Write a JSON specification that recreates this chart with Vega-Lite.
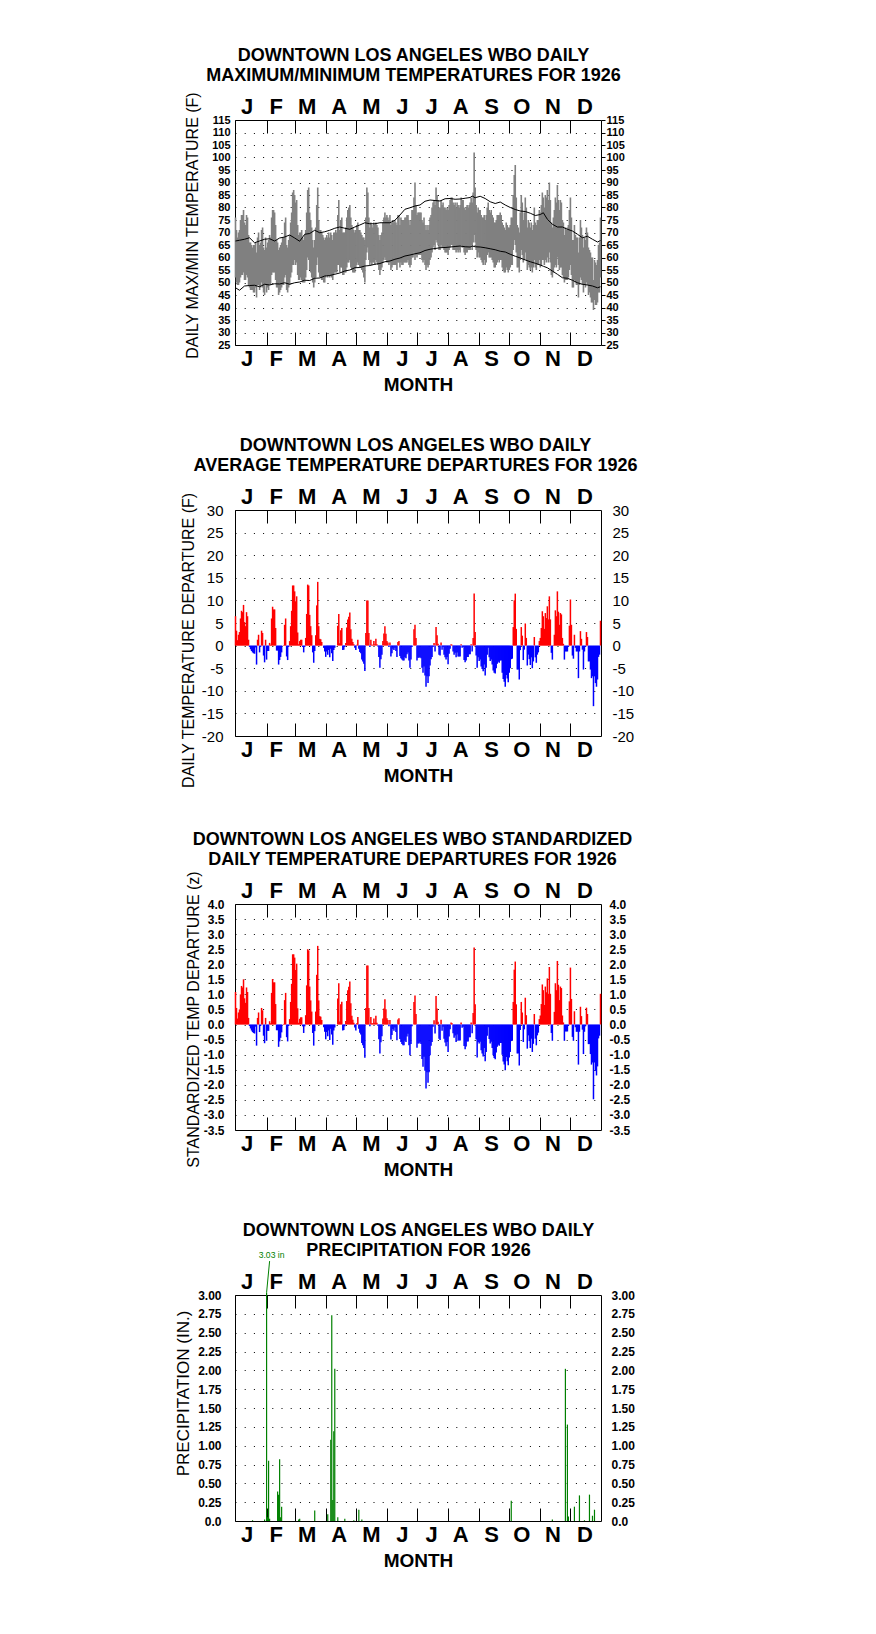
{
"$schema": "https://vega.github.io/schema/vega-lite/v6.json",
"background": "white",
"padding": {"left": 174, "top": 46, "right": 10, "bottom": 10},
"spacing": 41,
"config": {
  "font": "Liberation Sans",
  "view": {"stroke": "black", "strokeWidth": 1},
  "axis": {"labelColor": "black", "titleColor": "black", "labelFont": "Liberation Sans", "titleFont": "Liberation Sans", "domain": false}
},
"datasets": {
"days": [
{"d":1,"hi":76,"lo":52,"dep":6.5,"z":1.08},{"d":2,"hi":71,"lo":50,"dep":3.3,"z":0.55},{"d":3,"hi":68,"lo":49,"dep":1.2,"z":0.2},{"d":4,"hi":70,"lo":49,"dep":2.4,"z":0.4},{"d":5,"hi":71,"lo":50,"dep":3.0,"z":0.5},{"d":6,"hi":75,"lo":52,"dep":6.0,"z":1.0},{"d":7,"hi":77,"lo":53,"dep":7.7,"z":1.28},{"d":8,"hi":77,"lo":53,"dep":7.4,"z":1.23},{"d":9,"hi":79,"lo":54,"dep":9.0,"z":1.5},{"d":10,"hi":74,"lo":51,"dep":5.2,"z":0.87},
{"d":11,"hi":73,"lo":51,"dep":4.3,"z":0.72},{"d":12,"hi":77,"lo":53,"dep":7.4,"z":1.23},{"d":13,"hi":76,"lo":52,"dep":6.5,"z":1.08},{"d":14,"hi":69,"lo":49,"dep":1.3,"z":0.22},{"d":15,"hi":66,"lo":48,"dep":-0.3,"z":-0.05},{"d":16,"hi":66,"lo":47,"dep":-0.8,"z":-0.13},{"d":17,"hi":65,"lo":47,"dep":-1.2,"z":-0.2},{"d":18,"hi":64,"lo":47,"dep":-1.5,"z":-0.25},{"d":19,"hi":65,"lo":46,"dep":-1.7,"z":-0.28},{"d":20,"hi":65,"lo":46,"dep":-1.8,"z":-0.3},
{"d":21,"hi":66,"lo":48,"dep":-0.4,"z":-0.07},{"d":22,"hi":62,"lo":44,"dep":-4.2,"z":-0.7},{"d":23,"hi":68,"lo":49,"dep":1.3,"z":0.22},{"d":24,"hi":70,"lo":49,"dep":2.4,"z":0.4},{"d":25,"hi":65,"lo":47,"dep":-1.5,"z":-0.25},{"d":26,"hi":66,"lo":48,"dep":-0.3,"z":-0.05},{"d":27,"hi":71,"lo":50,"dep":3.3,"z":0.55},{"d":28,"hi":72,"lo":48,"dep":2.8,"z":0.47},{"d":29,"hi":64,"lo":46,"dep":-2.2,"z":-0.37},{"d":30,"hi":63,"lo":45,"dep":-3.7,"z":-0.62},
{"d":31,"hi":68,"lo":49,"dep":1.3,"z":0.22},{"d":32,"hi":64,"lo":46,"dep":-3.1,"z":-0.54},{"d":33,"hi":66,"lo":48,"dep":-1.2,"z":-0.21},{"d":34,"hi":67,"lo":47,"dep":-1.2,"z":-0.21},{"d":35,"hi":69,"lo":49,"dep":0.6,"z":0.11},{"d":36,"hi":68,"lo":49,"dep":0.2,"z":0.04},{"d":37,"hi":76,"lo":53,"dep":6.0,"z":1.05},{"d":38,"hi":79,"lo":54,"dep":8.6,"z":1.51},{"d":39,"hi":79,"lo":54,"dep":8.0,"z":1.4},{"d":40,"hi":78,"lo":54,"dep":8.0,"z":1.4},
{"d":41,"hi":73,"lo":51,"dep":3.9,"z":0.68},{"d":42,"hi":67,"lo":48,"dep":-1.1,"z":-0.19},{"d":43,"hi":66,"lo":48,"dep":-1.1,"z":-0.19},{"d":44,"hi":63,"lo":45,"dep":-4.2,"z":-0.74},{"d":45,"hi":64,"lo":46,"dep":-3.2,"z":-0.56},{"d":46,"hi":65,"lo":47,"dep":-2.5,"z":-0.44},{"d":47,"hi":66,"lo":48,"dep":-1.5,"z":-0.26},{"d":48,"hi":68,"lo":49,"dep":0.0,"z":0.0},{"d":49,"hi":68,"lo":49,"dep":0.1,"z":0.02},{"d":50,"hi":74,"lo":52,"dep":4.6,"z":0.81},
{"d":51,"hi":76,"lo":53,"dep":6.0,"z":1.05},{"d":52,"hi":65,"lo":47,"dep":-2.4,"z":-0.42},{"d":53,"hi":64,"lo":46,"dep":-3.2,"z":-0.56},{"d":54,"hi":67,"lo":48,"dep":-0.3,"z":-0.05},{"d":55,"hi":69,"lo":49,"dep":1.0,"z":0.18},{"d":56,"hi":74,"lo":52,"dep":4.3,"z":0.75},{"d":57,"hi":78,"lo":54,"dep":7.7,"z":1.35},{"d":58,"hi":86,"lo":57,"dep":13.3,"z":2.33},{"d":59,"hi":87,"lo":57,"dep":13.3,"z":2.33},{"d":60,"hi":85,"lo":59,"dep":12.0,"z":2.22},
{"d":61,"hi":82,"lo":57,"dep":9.8,"z":1.81},{"d":62,"hi":83,"lo":58,"dep":10.9,"z":2.02},{"d":63,"hi":73,"lo":53,"dep":2.9,"z":0.54},{"d":64,"hi":69,"lo":51,"dep":0.3,"z":0.06},{"d":65,"hi":70,"lo":51,"dep":1.0,"z":0.19},{"d":66,"hi":70,"lo":52,"dep":1.3,"z":0.24},{"d":67,"hi":71,"lo":51,"dep":1.3,"z":0.24},{"d":68,"hi":68,"lo":50,"dep":-0.3,"z":-0.06},{"d":69,"hi":67,"lo":50,"dep":-1.5,"z":-0.28},{"d":70,"hi":69,"lo":50,"dep":-0.3,"z":-0.06},
{"d":71,"hi":71,"lo":52,"dep":1.7,"z":0.31},{"d":72,"hi":78,"lo":55,"dep":7.0,"z":1.3},{"d":73,"hi":87,"lo":60,"dep":13.5,"z":2.5},{"d":74,"hi":88,"lo":59,"dep":13.3,"z":2.46},{"d":75,"hi":78,"lo":55,"dep":6.8,"z":1.26},{"d":76,"hi":75,"lo":54,"dep":4.3,"z":0.8},{"d":77,"hi":72,"lo":52,"dep":2.3,"z":0.43},{"d":78,"hi":67,"lo":50,"dep":-1.5,"z":-0.28},{"d":79,"hi":64,"lo":48,"dep":-3.8,"z":-0.7},{"d":80,"hi":67,"lo":50,"dep":-1.2,"z":-0.22},
{"d":81,"hi":72,"lo":52,"dep":2.3,"z":0.43},{"d":82,"hi":81,"lo":57,"dep":8.9,"z":1.65},{"d":83,"hi":88,"lo":60,"dep":14.1,"z":2.61},{"d":84,"hi":75,"lo":54,"dep":4.3,"z":0.8},{"d":85,"hi":71,"lo":52,"dep":1.5,"z":0.28},{"d":86,"hi":71,"lo":52,"dep":1.4,"z":0.26},{"d":87,"hi":70,"lo":51,"dep":0.8,"z":0.15},{"d":88,"hi":69,"lo":51,"dep":0.0,"z":0.0},{"d":89,"hi":68,"lo":50,"dep":-0.5,"z":-0.09},{"d":90,"hi":67,"lo":50,"dep":-1.3,"z":-0.24},
{"d":91,"hi":68,"lo":52,"dep":-2.5,"z":-0.49},{"d":92,"hi":69,"lo":53,"dep":-1.3,"z":-0.25},{"d":93,"hi":68,"lo":52,"dep":-2.0,"z":-0.39},{"d":94,"hi":70,"lo":53,"dep":-1.0,"z":-0.2},{"d":95,"hi":68,"lo":52,"dep":-2.6,"z":-0.51},{"d":96,"hi":70,"lo":53,"dep":-0.7,"z":-0.14},{"d":97,"hi":69,"lo":52,"dep":-1.7,"z":-0.33},{"d":98,"hi":67,"lo":51,"dep":-3.4,"z":-0.67},{"d":99,"hi":70,"lo":53,"dep":-1.0,"z":-0.2},{"d":100,"hi":70,"lo":54,"dep":-0.5,"z":-0.1},
{"d":101,"hi":71,"lo":54,"dep":0.0,"z":0.0},{"d":102,"hi":70,"lo":54,"dep":0.0,"z":0.0},{"d":103,"hi":77,"lo":57,"dep":4.4,"z":0.86},{"d":104,"hi":83,"lo":57,"dep":7.0,"z":1.37},{"d":105,"hi":71,"lo":54,"dep":0.5,"z":0.1},{"d":106,"hi":75,"lo":56,"dep":3.4,"z":0.67},{"d":107,"hi":76,"lo":56,"dep":3.9,"z":0.76},{"d":108,"hi":70,"lo":53,"dep":-1.0,"z":-0.2},{"d":109,"hi":70,"lo":53,"dep":-0.9,"z":-0.18},{"d":110,"hi":70,"lo":54,"dep":-0.3,"z":-0.06},
{"d":111,"hi":72,"lo":54,"dep":0.6,"z":0.12},{"d":112,"hi":76,"lo":56,"dep":4.0,"z":0.78},{"d":113,"hi":79,"lo":58,"dep":5.8,"z":1.14},{"d":114,"hi":80,"lo":58,"dep":6.4,"z":1.25},{"d":115,"hi":81,"lo":59,"dep":7.3,"z":1.43},{"d":116,"hi":76,"lo":56,"dep":3.6,"z":0.71},{"d":117,"hi":73,"lo":55,"dep":1.5,"z":0.29},{"d":118,"hi":72,"lo":54,"dep":0.8,"z":0.16},{"d":119,"hi":71,"lo":54,"dep":0.3,"z":0.06},{"d":120,"hi":70,"lo":54,"dep":-0.5,"z":-0.1},
{"d":121,"hi":71,"lo":56,"dep":-1.0,"z":-0.2},{"d":122,"hi":73,"lo":57,"dep":0.2,"z":0.04},{"d":123,"hi":74,"lo":58,"dep":1.3,"z":0.25},{"d":124,"hi":71,"lo":57,"dep":-0.7,"z":-0.14},{"d":125,"hi":71,"lo":56,"dep":-1.4,"z":-0.27},{"d":126,"hi":70,"lo":56,"dep":-1.7,"z":-0.33},{"d":127,"hi":69,"lo":55,"dep":-3.1,"z":-0.61},{"d":128,"hi":68,"lo":54,"dep":-3.5,"z":-0.69},{"d":129,"hi":68,"lo":52,"dep":-4.0,"z":-0.78},{"d":130,"hi":67,"lo":50,"dep":-5.6,"z":-1.1},
{"d":131,"hi":76,"lo":59,"dep":2.8,"z":0.55},{"d":132,"hi":88,"lo":62,"dep":10.0,"z":1.96},{"d":133,"hi":86,"lo":64,"dep":10.0,"z":1.96},{"d":134,"hi":76,"lo":59,"dep":2.8,"z":0.55},{"d":135,"hi":72,"lo":57,"dep":-0.3,"z":-0.06},{"d":136,"hi":74,"lo":58,"dep":1.3,"z":0.25},{"d":137,"hi":73,"lo":57,"dep":0.2,"z":0.04},{"d":138,"hi":72,"lo":58,"dep":0.2,"z":0.04},{"d":139,"hi":74,"lo":58,"dep":1.0,"z":0.2},{"d":140,"hi":73,"lo":57,"dep":0.3,"z":0.06},
{"d":141,"hi":74,"lo":59,"dep":1.5,"z":0.29},{"d":142,"hi":73,"lo":58,"dep":0.3,"z":0.06},{"d":143,"hi":72,"lo":57,"dep":-0.2,"z":-0.04},{"d":144,"hi":69,"lo":55,"dep":-2.5,"z":-0.49},{"d":145,"hi":67,"lo":53,"dep":-4.9,"z":-0.96},{"d":146,"hi":69,"lo":55,"dep":-3.0,"z":-0.59},{"d":147,"hi":70,"lo":56,"dep":-2.0,"z":-0.39},{"d":148,"hi":74,"lo":58,"dep":1.0,"z":0.2},{"d":149,"hi":76,"lo":59,"dep":2.7,"z":0.53},{"d":150,"hi":78,"lo":60,"dep":4.3,"z":0.84},
{"d":151,"hi":76,"lo":59,"dep":2.6,"z":0.51},{"d":152,"hi":77,"lo":58,"dep":1.0,"z":0.21},{"d":153,"hi":76,"lo":58,"dep":0.7,"z":0.15},{"d":154,"hi":75,"lo":57,"dep":-0.3,"z":-0.06},{"d":155,"hi":77,"lo":58,"dep":0.7,"z":0.15},{"d":156,"hi":73,"lo":55,"dep":-2.4,"z":-0.5},{"d":157,"hi":74,"lo":56,"dep":-1.7,"z":-0.35},{"d":158,"hi":75,"lo":57,"dep":-0.7,"z":-0.15},{"d":159,"hi":74,"lo":57,"dep":-1.0,"z":-0.21},{"d":160,"hi":75,"lo":57,"dep":-0.5,"z":-0.1},
{"d":161,"hi":74,"lo":57,"dep":-1.2,"z":-0.25},{"d":162,"hi":73,"lo":55,"dep":-2.5,"z":-0.52},{"d":163,"hi":77,"lo":58,"dep":0.8,"z":0.17},{"d":164,"hi":77,"lo":58,"dep":1.0,"z":0.21},{"d":165,"hi":73,"lo":56,"dep":-2.3,"z":-0.48},{"d":166,"hi":76,"lo":58,"dep":-2.8,"z":-0.58},{"d":167,"hi":75,"lo":57,"dep":-3.1,"z":-0.65},{"d":168,"hi":75,"lo":57,"dep":-3.3,"z":-0.69},{"d":169,"hi":75,"lo":58,"dep":-3.3,"z":-0.69},{"d":170,"hi":76,"lo":58,"dep":-2.6,"z":-0.54},
{"d":171,"hi":76,"lo":58,"dep":-2.8,"z":-0.58},{"d":172,"hi":77,"lo":58,"dep":-1.9,"z":-0.4},{"d":173,"hi":77,"lo":59,"dep":-1.5,"z":-0.31},{"d":174,"hi":75,"lo":57,"dep":-3.3,"z":-0.69},{"d":175,"hi":73,"lo":56,"dep":-4.9,"z":-1.02},{"d":176,"hi":75,"lo":57,"dep":-3.1,"z":-0.65},{"d":177,"hi":79,"lo":60,"dep":-0.3,"z":-0.06},{"d":178,"hi":79,"lo":60,"dep":0.0,"z":0.0},{"d":179,"hi":84,"lo":62,"dep":3.6,"z":0.75},{"d":180,"hi":90,"lo":59,"dep":4.6,"z":0.96},
{"d":181,"hi":81,"lo":61,"dep":1.7,"z":0.35},{"d":182,"hi":77,"lo":60,"dep":-3.3,"z":-0.77},{"d":183,"hi":78,"lo":61,"dep":-2.7,"z":-0.63},{"d":184,"hi":78,"lo":61,"dep":-2.7,"z":-0.63},{"d":185,"hi":78,"lo":61,"dep":-2.6,"z":-0.6},{"d":186,"hi":78,"lo":61,"dep":-2.8,"z":-0.65},{"d":187,"hi":75,"lo":59,"dep":-4.9,"z":-1.14},{"d":188,"hi":74,"lo":58,"dep":-6.0,"z":-1.4},{"d":189,"hi":76,"lo":59,"dep":-4.6,"z":-1.07},{"d":190,"hi":73,"lo":57,"dep":-6.6,"z":-1.53},
{"d":191,"hi":71,"lo":55,"dep":-9.1,"z":-2.12},{"d":192,"hi":73,"lo":57,"dep":-6.8,"z":-1.58},{"d":193,"hi":71,"lo":56,"dep":-8.3,"z":-1.93},{"d":194,"hi":73,"lo":57,"dep":-6.8,"z":-1.58},{"d":195,"hi":76,"lo":59,"dep":-4.4,"z":-1.02},{"d":196,"hi":77,"lo":60,"dep":-3.0,"z":-0.7},{"d":197,"hi":80,"lo":62,"dep":-2.5,"z":-0.58},{"d":198,"hi":82,"lo":64,"dep":-0.3,"z":-0.07},{"d":199,"hi":83,"lo":65,"dep":0.6,"z":0.14},{"d":200,"hi":81,"lo":63,"dep":-1.3,"z":-0.3},
{"d":201,"hi":88,"lo":67,"dep":4.1,"z":0.95},{"d":202,"hi":85,"lo":66,"dep":2.3,"z":0.53},{"d":203,"hi":83,"lo":65,"dep":0.4,"z":0.09},{"d":204,"hi":80,"lo":63,"dep":-2.0,"z":-0.47},{"d":205,"hi":80,"lo":63,"dep":-2.2,"z":-0.51},{"d":206,"hi":83,"lo":65,"dep":0.7,"z":0.16},{"d":207,"hi":81,"lo":64,"dep":-0.9,"z":-0.21},{"d":208,"hi":82,"lo":64,"dep":-0.3,"z":-0.07},{"d":209,"hi":80,"lo":63,"dep":-2.0,"z":-0.47},{"d":210,"hi":80,"lo":62,"dep":-2.6,"z":-0.6},
{"d":211,"hi":79,"lo":62,"dep":-3.1,"z":-0.72},{"d":212,"hi":80,"lo":62,"dep":-2.5,"z":-0.58},{"d":213,"hi":79,"lo":61,"dep":-4.1,"z":-0.91},{"d":214,"hi":81,"lo":63,"dep":-1.8,"z":-0.4},{"d":215,"hi":83,"lo":64,"dep":-0.7,"z":-0.16},{"d":216,"hi":84,"lo":65,"dep":0.3,"z":0.07},{"d":217,"hi":84,"lo":65,"dep":0.2,"z":0.04},{"d":218,"hi":82,"lo":63,"dep":-1.3,"z":-0.29},{"d":219,"hi":81,"lo":63,"dep":-2.0,"z":-0.44},{"d":220,"hi":82,"lo":63,"dep":-1.6,"z":-0.36},
{"d":221,"hi":80,"lo":62,"dep":-2.6,"z":-0.58},{"d":222,"hi":82,"lo":63,"dep":-1.5,"z":-0.33},{"d":223,"hi":81,"lo":62,"dep":-2.4,"z":-0.53},{"d":224,"hi":80,"lo":63,"dep":-2.4,"z":-0.53},{"d":225,"hi":81,"lo":62,"dep":-2.4,"z":-0.53},{"d":226,"hi":84,"lo":65,"dep":0.3,"z":0.07},{"d":227,"hi":83,"lo":64,"dep":-0.5,"z":-0.11},{"d":228,"hi":83,"lo":64,"dep":-0.3,"z":-0.07},{"d":229,"hi":80,"lo":62,"dep":-3.2,"z":-0.71},{"d":230,"hi":79,"lo":61,"dep":-3.7,"z":-0.82},
{"d":231,"hi":80,"lo":62,"dep":-3.3,"z":-0.73},{"d":232,"hi":81,"lo":62,"dep":-2.5,"z":-0.56},{"d":233,"hi":80,"lo":63,"dep":-2.5,"z":-0.56},{"d":234,"hi":81,"lo":63,"dep":-1.9,"z":-0.42},{"d":235,"hi":82,"lo":63,"dep":-1.9,"z":-0.42},{"d":236,"hi":84,"lo":65,"dep":0.3,"z":0.07},{"d":237,"hi":82,"lo":63,"dep":-1.3,"z":-0.29},{"d":238,"hi":86,"lo":66,"dep":1.7,"z":0.38},{"d":239,"hi":102,"lo":69,"dep":11.5,"z":2.56},{"d":240,"hi":88,"lo":66,"dep":3.0,"z":0.67},
{"d":241,"hi":81,"lo":63,"dep":-2.2,"z":-0.49},{"d":242,"hi":78,"lo":60,"dep":-4.9,"z":-1.09},{"d":243,"hi":80,"lo":62,"dep":-2.6,"z":-0.58},{"d":244,"hi":79,"lo":60,"dep":-3.4,"z":-0.63},{"d":245,"hi":79,"lo":60,"dep":-3.1,"z":-0.57},{"d":246,"hi":77,"lo":59,"dep":-4.6,"z":-0.85},{"d":247,"hi":76,"lo":58,"dep":-5.2,"z":-0.96},{"d":248,"hi":76,"lo":57,"dep":-5.7,"z":-1.06},{"d":249,"hi":77,"lo":59,"dep":-4.2,"z":-0.78},{"d":250,"hi":75,"lo":57,"dep":-6.6,"z":-1.22},
{"d":251,"hi":77,"lo":58,"dep":-4.9,"z":-0.91},{"d":252,"hi":80,"lo":61,"dep":-2.0,"z":-0.37},{"d":253,"hi":82,"lo":62,"dep":-0.5,"z":-0.09},{"d":254,"hi":79,"lo":60,"dep":-2.6,"z":-0.48},{"d":255,"hi":78,"lo":60,"dep":-3.4,"z":-0.63},{"d":256,"hi":79,"lo":60,"dep":-3.1,"z":-0.57},{"d":257,"hi":77,"lo":59,"dep":-4.2,"z":-0.78},{"d":258,"hi":76,"lo":58,"dep":-5.5,"z":-1.02},{"d":259,"hi":74,"lo":56,"dep":-6.0,"z":-1.11},{"d":260,"hi":74,"lo":56,"dep":-6.2,"z":-1.15},
{"d":261,"hi":75,"lo":57,"dep":-5.0,"z":-0.93},{"d":262,"hi":77,"lo":58,"dep":-4.0,"z":-0.74},{"d":263,"hi":77,"lo":59,"dep":-3.6,"z":-0.67},{"d":264,"hi":77,"lo":58,"dep":-3.8,"z":-0.7},{"d":265,"hi":78,"lo":59,"dep":-3.3,"z":-0.61},{"d":266,"hi":77,"lo":59,"dep":-3.3,"z":-0.61},{"d":267,"hi":74,"lo":56,"dep":-6.0,"z":-1.0},{"d":268,"hi":73,"lo":55,"dep":-7.4,"z":-1.23},{"d":269,"hi":72,"lo":54,"dep":-8.0,"z":-1.33},{"d":270,"hi":71,"lo":54,"dep":-9.1,"z":-1.52},
{"d":271,"hi":74,"lo":56,"dep":-6.5,"z":-1.08},{"d":272,"hi":73,"lo":55,"dep":-7.3,"z":-1.22},{"d":273,"hi":72,"lo":54,"dep":-8.1,"z":-1.35},{"d":274,"hi":72,"lo":55,"dep":-6.0,"z":-1.09},{"d":275,"hi":73,"lo":56,"dep":-5.0,"z":-0.91},{"d":276,"hi":76,"lo":57,"dep":-3.0,"z":-0.55},{"d":277,"hi":76,"lo":57,"dep":-2.9,"z":-0.53},{"d":278,"hi":85,"lo":63,"dep":4.1,"z":0.75},{"d":279,"hi":93,"lo":67,"dep":10.0,"z":1.82},{"d":280,"hi":97,"lo":65,"dep":11.5,"z":2.09},
{"d":281,"hi":84,"lo":62,"dep":3.7,"z":0.67},{"d":282,"hi":73,"lo":56,"dep":-5.3,"z":-0.96},{"d":283,"hi":72,"lo":56,"dep":-5.3,"z":-0.96},{"d":284,"hi":70,"lo":54,"dep":-7.5,"z":-1.36},{"d":285,"hi":78,"lo":59,"dep":-1.0,"z":-0.18},{"d":286,"hi":85,"lo":63,"dep":4.1,"z":0.75},{"d":287,"hi":82,"lo":61,"dep":2.2,"z":0.4},{"d":288,"hi":75,"lo":58,"dep":-3.2,"z":-0.58},{"d":289,"hi":78,"lo":59,"dep":-0.9,"z":-0.16},{"d":290,"hi":84,"lo":62,"dep":4.9,"z":0.89},
{"d":291,"hi":80,"lo":59,"dep":1.7,"z":0.31},{"d":292,"hi":72,"lo":55,"dep":-4.4,"z":-0.8},{"d":293,"hi":75,"lo":57,"dep":-2.0,"z":-0.36},{"d":294,"hi":74,"lo":56,"dep":-3.0,"z":-0.55},{"d":295,"hi":72,"lo":55,"dep":-4.3,"z":-0.78},{"d":296,"hi":74,"lo":56,"dep":-2.6,"z":-0.47},{"d":297,"hi":71,"lo":54,"dep":-5.0,"z":-0.91},{"d":298,"hi":73,"lo":56,"dep":-3.5,"z":-0.64},{"d":299,"hi":80,"lo":59,"dep":1.9,"z":0.35},{"d":300,"hi":74,"lo":56,"dep":-2.6,"z":-0.47},
{"d":301,"hi":73,"lo":55,"dep":-3.8,"z":-0.69},{"d":302,"hi":75,"lo":57,"dep":-2.0,"z":-0.36},{"d":303,"hi":75,"lo":57,"dep":-1.5,"z":-0.27},{"d":304,"hi":79,"lo":59,"dep":1.0,"z":0.18},{"d":305,"hi":78,"lo":56,"dep":1.7,"z":0.3},{"d":306,"hi":81,"lo":57,"dep":3.9,"z":0.68},{"d":307,"hi":86,"lo":59,"dep":7.6,"z":1.33},{"d":308,"hi":84,"lo":59,"dep":6.5,"z":1.14},{"d":309,"hi":80,"lo":57,"dep":3.7,"z":0.65},{"d":310,"hi":85,"lo":59,"dep":7.2,"z":1.26},
{"d":311,"hi":84,"lo":58,"dep":6.1,"z":1.07},{"d":312,"hi":87,"lo":60,"dep":8.7,"z":1.53},{"d":313,"hi":83,"lo":58,"dep":5.8,"z":1.02},{"d":314,"hi":90,"lo":62,"dep":10.9,"z":1.91},{"d":315,"hi":83,"lo":58,"dep":5.8,"z":1.02},{"d":316,"hi":74,"lo":53,"dep":-1.6,"z":-0.28},{"d":317,"hi":72,"lo":52,"dep":-3.1,"z":-0.54},{"d":318,"hi":76,"lo":54,"dep":0.1,"z":0.02},{"d":319,"hi":79,"lo":56,"dep":2.4,"z":0.42},{"d":320,"hi":84,"lo":57,"dep":7.8,"z":1.37},
{"d":321,"hi":82,"lo":56,"dep":6.5,"z":1.14},{"d":322,"hi":89,"lo":60,"dep":12.0,"z":2.11},{"d":323,"hi":83,"lo":57,"dep":7.5,"z":1.32},{"d":324,"hi":79,"lo":55,"dep":4.6,"z":0.81},{"d":325,"hi":83,"lo":56,"dep":7.2,"z":1.26},{"d":326,"hi":82,"lo":56,"dep":6.9,"z":1.21},{"d":327,"hi":75,"lo":53,"dep":1.7,"z":0.3},{"d":328,"hi":74,"lo":52,"dep":0.4,"z":0.07},{"d":329,"hi":69,"lo":50,"dep":-3.1,"z":-0.54},{"d":330,"hi":72,"lo":51,"dep":-1.3,"z":-0.23},
{"d":331,"hi":71,"lo":51,"dep":-1.3,"z":-0.23},{"d":332,"hi":72,"lo":51,"dep":-1.3,"z":-0.23},{"d":333,"hi":73,"lo":52,"dep":-0.3,"z":-0.05},{"d":334,"hi":79,"lo":55,"dep":4.4,"z":0.77},{"d":335,"hi":84,"lo":57,"dep":10.2,"z":1.89},{"d":336,"hi":76,"lo":53,"dep":4.6,"z":0.85},{"d":337,"hi":67,"lo":48,"dep":-2.2,"z":-0.41},{"d":338,"hi":67,"lo":48,"dep":-2.9,"z":-0.54},{"d":339,"hi":73,"lo":51,"dep":2.4,"z":0.44},{"d":340,"hi":69,"lo":50,"dep":-0.5,"z":-0.09},
{"d":341,"hi":68,"lo":49,"dep":-1.3,"z":-0.24},{"d":342,"hi":68,"lo":49,"dep":-1.3,"z":-0.24},{"d":343,"hi":62,"lo":44,"dep":-7.2,"z":-1.33},{"d":344,"hi":68,"lo":49,"dep":-1.3,"z":-0.24},{"d":345,"hi":75,"lo":52,"dep":3.2,"z":0.59},{"d":346,"hi":72,"lo":51,"dep":1.5,"z":0.28},{"d":347,"hi":69,"lo":49,"dep":-0.9,"z":-0.17},{"d":348,"hi":64,"lo":46,"dep":-5.3,"z":-0.98},{"d":349,"hi":68,"lo":49,"dep":-1.3,"z":-0.24},{"d":350,"hi":67,"lo":48,"dep":-0.3,"z":-0.06},
{"d":351,"hi":72,"lo":50,"dep":3.0,"z":0.56},{"d":352,"hi":70,"lo":49,"dep":1.9,"z":0.35},{"d":353,"hi":64,"lo":45,"dep":-3.5,"z":-0.65},{"d":354,"hi":63,"lo":46,"dep":-3.5,"z":-0.65},{"d":355,"hi":62,"lo":44,"dep":-5.3,"z":-0.98},{"d":356,"hi":60,"lo":42,"dep":-7.2,"z":-1.33},{"d":357,"hi":60,"lo":42,"dep":-6.8,"z":-1.26},{"d":358,"hi":51,"lo":39,"dep":-13.4,"z":-2.48},{"d":359,"hi":59,"lo":43,"dep":-6.8,"z":-1.26},{"d":360,"hi":58,"lo":41,"dep":-8.3,"z":-1.54},
{"d":361,"hi":57,"lo":41,"dep":-9.1,"z":-1.69},{"d":362,"hi":59,"lo":42,"dep":-7.5,"z":-1.39},{"d":363,"hi":65,"lo":46,"dep":-2.5,"z":-0.46},{"d":364,"hi":66,"lo":46,"dep":-2.0,"z":-0.37},{"d":365,"hi":76,"lo":52,"dep":5.5,"z":1.02}
],
"norm": [
{"d":1,"nh":66.6,"nl":47.9},{"d":5,"nh":66.9,"nl":46.9},{"d":10,"nh":67.3,"nl":48.6},{"d":15,"nh":67.9,"nl":48.8},{"d":20,"nh":65.9,"nl":48.9},{"d":25,"nh":66.6,"nl":48.3},{"d":30,"nh":67.3,"nl":49.3},{"d":35,"nh":67.5,"nl":49.0},{"d":40,"nh":66.6,"nl":49.5},{"d":45,"nh":67.8,"nl":49.4},
{"d":50,"nh":68.2,"nl":49.9},{"d":55,"nh":69.0,"nl":49.3},{"d":60,"nh":67.8,"nl":49.9},{"d":65,"nh":66.5,"nl":50.2},{"d":70,"nh":69.3,"nl":50.9},{"d":75,"nh":69.6,"nl":50.8},{"d":80,"nh":70.9,"nl":51.7},{"d":85,"nh":69.9,"nl":51.8},{"d":90,"nh":70.3,"nl":52.6},{"d":95,"nh":70.9,"nl":52.8},
{"d":100,"nh":71.7,"nl":53.3},{"d":105,"nh":72.2,"nl":53.8},{"d":110,"nh":71.7,"nl":54.6},{"d":115,"nh":71.3,"nl":55.0},{"d":120,"nh":72.2,"nl":55.9},{"d":125,"nh":73.0,"nl":56.0},{"d":130,"nh":73.9,"nl":56.6},{"d":135,"nh":73.5,"nl":56.8},{"d":140,"nh":73.5,"nl":57.3},{"d":145,"nh":73.9,"nl":57.6},
{"d":150,"nh":73.9,"nl":58.3},{"d":155,"nh":73.9,"nl":58.6},{"d":160,"nh":74.9,"nl":59.3},{"d":165,"nh":77.0,"nl":59.8},{"d":170,"nh":79.3,"nl":60.6},{"d":175,"nh":79.9,"nl":61.0},{"d":180,"nh":80.6,"nl":61.5},{"d":185,"nh":81.0,"nl":61.9},{"d":190,"nh":82.5,"nl":62.8},{"d":195,"nh":83.0,"nl":63.3},
{"d":200,"nh":82.8,"nl":63.6},{"d":205,"nh":82.6,"nl":63.9},{"d":210,"nh":83.5,"nl":64.0},{"d":215,"nh":83.6,"nl":64.2},{"d":220,"nh":83.3,"nl":64.4},{"d":225,"nh":83.4,"nl":64.6},{"d":230,"nh":83.7,"nl":64.3},{"d":235,"nh":84.0,"nl":64.2},{"d":237,"nh":84.6,"nl":64.6},{"d":240,"nh":83.9,"nl":64.3},
{"d":245,"nh":84.5,"nl":64.2},{"d":250,"nh":83.6,"nl":63.9},{"d":255,"nh":82.3,"nl":63.5},{"d":260,"nh":81.6,"nl":63.1},{"d":265,"nh":82.2,"nl":62.5},{"d":270,"nh":81.0,"nl":62.2},{"d":275,"nh":80.0,"nl":61.3},{"d":280,"nh":79.2,"nl":60.5},{"d":285,"nh":78.6,"nl":59.8},{"d":290,"nh":78.4,"nl":59.0},
{"d":295,"nh":77.7,"nl":58.3},{"d":300,"nh":76.8,"nl":57.7},{"d":305,"nh":77.2,"nl":57.0},{"d":308,"nh":77.9,"nl":56.5},{"d":312,"nh":75.3,"nl":55.9},{"d":317,"nh":73.3,"nl":54.6},{"d":322,"nh":72.2,"nl":53.3},{"d":327,"nh":72.2,"nl":51.9},{"d":332,"nh":71.3,"nl":51.7},{"d":337,"nh":70.6,"nl":50.9},
{"d":342,"nh":69.3,"nl":49.9},{"d":347,"nh":67.9,"nl":49.3},{"d":352,"nh":68.5,"nl":49.0},{"d":357,"nh":67.3,"nl":48.6},{"d":362,"nh":66.2,"nl":47.9},{"d":365,"nh":66.8,"nl":48.3}
],
"prcp": [
{"d":18,"p":0.01},{"d":30,"p":0.02},{"d":32,"p":3.03},{"d":33,"p":0.05},{"d":34,"p":0.8},{"d":35,"p":0.03},{"d":43,"p":0.39},{"d":44,"p":0.35},{"d":45,"p":0.82},{"d":46,"p":0.05},{"d":47,"p":0.19},{"d":64,"p":0.02},{"d":65,"p":0.03},{"d":80,"p":0.14},{"d":93,"p":0.09},{"d":96,"p":1.08},{"d":97,"p":2.73},{"d":98,"p":0.28},{"d":99,"p":1.19},{"d":100,"p":2.02},{"d":103,"p":0.05},{"d":110,"p":0.03},{"d":119,"p":0.01},{"d":124,"p":0.15},{"d":127,"p":0.02},{"d":276,"p":0.27},{"d":317,"p":0.02},{"d":330,"p":2.02},{"d":332,"p":1.28},{"d":333,"p":0.06},{"d":339,"p":0.19},{"d":344,"p":0.34},{"d":349,"p":0.01},{"d":354,"p":0.35},{"d":357,"p":0.07},{"d":359,"p":0.15}
],
"note": [{"d":32,"v":3.03,"lab":"3.03 in"}]
},
"vconcat": [
{
 "width": 366, "height": 225,
 "layer": [
  {"data": {"name": "days"},
   "mark": {"type": "rule", "color": "#808080", "strokeWidth": 1.6},
   "encoding": {
    "x": {"field": "d", "type": "quantitative", "scale": {"domain": [0.5, 365.5], "nice": false, "zero": false},
      "axis": {"orient": "top", "values": [12,41,72,104,136,167,196,225,256,286,317,349], "labelExpr": "['J','F','M','A','M','J','J','A','S','O','N','D'][indexof([12,41,72,104,136,167,196,225,256,286,317,349], datum.value)]", "ticks": false, "grid": false, "labelFontSize": 22, "labelFontWeight": "bold", "labelPadding": 1.5, "labelFlush": false, "labelOverlap": false,
        "title": ["DOWNTOWN LOS ANGELES WBO DAILY", "MAXIMUM/MINIMUM TEMPERATURES FOR 1926"], "titleFontSize": 18, "titleFontWeight": "bold", "titleLineHeight": 20, "titlePadding": 11, "titleX": 178}},
    "y": {"field": "lo", "type": "quantitative", "scale": {"domain": [25, 115], "nice": false, "zero": false},
      "axis": {"orient": "left", "values": [25,30,35,40,45,50,55,60,65,70,75,80,85,90,95,100,105,110,115], "grid": true, "gridColor": "black", "gridDash": [1, 8.2], "gridOpacity": 1, "gridWidth": 1, "ticks": false, "labelFontSize": 11, "labelFontWeight": "bold", "labelPadding": 5, "labelFlush": false, "labelOverlap": false,
        "title": "DAILY MAX/MIN TEMPERATURE (F)", "titleFontSize": 16, "titleFontWeight": "normal", "titlePadding": 11, "titleY": 105}},
    "y2": {"field": "hi"}
   }},
  {"data": {"name": "norm"},
   "mark": {"type": "line", "color": "black", "strokeWidth": 1},
   "encoding": {
    "x": {"field": "d", "type": "quantitative", "scale": {"domain": [0.5, 365.5], "nice": false, "zero": false},
      "axis": {"orient": "bottom", "values": [12,41,72,104,136,167,196,225,256,286,317,349], "labelExpr": "['J','F','M','A','M','J','J','A','S','O','N','D'][indexof([12,41,72,104,136,167,196,225,256,286,317,349], datum.value)]", "ticks": false, "grid": false, "labelFontSize": 22, "labelFontWeight": "bold", "labelPadding": 3, "labelFlush": false, "labelOverlap": false,
        "title": "MONTH", "titleFontSize": 19, "titleFontWeight": "bold", "titlePadding": 6}},
    "y": {"field": "nh", "type": "quantitative", "scale": {"domain": [25, 115], "nice": false, "zero": false},
      "axis": {"orient": "right", "values": [25,30,35,40,45,50,55,60,65,70,75,80,85,90,95,100,105,110,115], "grid": false, "ticks": true, "tickSize": 4, "tickColor": "black", "labelFontSize": 11, "labelFontWeight": "bold", "labelPadding": 1, "labelFlush": false, "labelOverlap": false, "title": null}}
   }},
  {"data": {"name": "norm"},
   "mark": {"type": "line", "color": "black", "strokeWidth": 1},
   "encoding": {
    "x": {"field": "d", "type": "quantitative", "scale": {"domain": [0.5, 365.5], "nice": false, "zero": false},
      "axis": {"orient": "top", "values": [32,60,91,121,152,182,213,244,274,305,335], "labels": false, "ticks": true, "tickSize": -13, "tickColor": "black", "grid": false, "title": null}},
    "y": {"field": "nl", "type": "quantitative", "scale": {"domain": [25, 115], "nice": false, "zero": false}, "axis": null}
   }},
  {"data": {"name": "days"},
   "mark": {"type": "point", "opacity": 0, "size": 1},
   "encoding": {
    "x": {"field": "d", "type": "quantitative", "scale": {"domain": [0.5, 365.5], "nice": false, "zero": false},
      "axis": {"orient": "bottom", "values": [32,60,91,121,152,182,213,244,274,305,335], "labels": false, "ticks": true, "tickSize": -13, "tickColor": "black", "grid": false, "title": null}},
    "y": {"field": "hi", "type": "quantitative", "scale": {"domain": [25, 115], "nice": false, "zero": false}, "axis": null}
   }}
 ],
 "resolve": {"axis": {"x": "independent", "y": "independent"}}
},
{
 "width": 366, "height": 226,
 "layer": [
  {"data": {"name": "days"}, "transform": [{"filter": "datum.dep > 0"}],
   "mark": {"type": "rule", "color": "#ff0000", "strokeWidth": 1.5},
   "encoding": {
    "x": {"field": "d", "type": "quantitative", "scale": {"domain": [0.5, 365.5], "nice": false, "zero": false},
      "axis": {"orient": "top", "values": [12,41,72,104,136,167,196,225,256,286,317,349], "labelExpr": "['J','F','M','A','M','J','J','A','S','O','N','D'][indexof([12,41,72,104,136,167,196,225,256,286,317,349], datum.value)]", "ticks": false, "grid": false, "labelFontSize": 22, "labelFontWeight": "bold", "labelPadding": 1.5, "labelFlush": false, "labelOverlap": false,
        "title": ["DOWNTOWN LOS ANGELES WBO DAILY", "AVERAGE TEMPERATURE DEPARTURES FOR 1926"], "titleFontSize": 18, "titleFontWeight": "bold", "titleLineHeight": 20, "titlePadding": 11, "titleX": 180}},
    "y": {"field": "dep", "type": "quantitative", "scale": {"domain": [-20, 30], "nice": false, "zero": false},
      "axis": {"orient": "left", "values": [-20,-15,-10,-5,0,5,10,15,20,25,30], "labelExpr": "'' + datum.value", "grid": true, "gridColor": "black", "gridDash": [1, 8.2], "gridOpacity": 1, "gridWidth": 1, "ticks": false, "labelFontSize": 15, "labelPadding": 12, "labelFlush": false, "labelOverlap": false,
        "title": "DAILY TEMPERATURE DEPARTURE (F)", "titleFontSize": 16, "titleFontWeight": "normal", "titlePadding": 5, "titleY": 130}},
    "y2": {"datum": 0}
   }},
  {"data": {"name": "days"}, "transform": [{"filter": "datum.dep < 0"}],
   "mark": {"type": "rule", "color": "#0000ff", "strokeWidth": 1.5},
   "encoding": {
    "x": {"field": "d", "type": "quantitative", "scale": {"domain": [0.5, 365.5], "nice": false, "zero": false},
      "axis": {"orient": "bottom", "values": [12,41,72,104,136,167,196,225,256,286,317,349], "labelExpr": "['J','F','M','A','M','J','J','A','S','O','N','D'][indexof([12,41,72,104,136,167,196,225,256,286,317,349], datum.value)]", "ticks": false, "grid": false, "labelFontSize": 22, "labelFontWeight": "bold", "labelPadding": 3, "labelFlush": false, "labelOverlap": false,
        "title": "MONTH", "titleFontSize": 19, "titleFontWeight": "bold", "titlePadding": 6}},
    "y": {"field": "dep", "type": "quantitative", "scale": {"domain": [-20, 30], "nice": false, "zero": false},
      "axis": {"orient": "right", "values": [-20,-15,-10,-5,0,5,10,15,20,25,30], "labelExpr": "'' + datum.value", "grid": false, "ticks": false, "labelFontSize": 15, "labelPadding": 11, "labelFlush": false, "labelOverlap": false, "title": null}},
    "y2": {"datum": 0}
   }},
  {"data": {"name": "days"},
   "mark": {"type": "point", "opacity": 0, "size": 1},
   "encoding": {
    "x": {"field": "d", "type": "quantitative", "scale": {"domain": [0.5, 365.5], "nice": false, "zero": false},
      "axis": {"orient": "top", "values": [32,60,91,121,152,182,213,244,274,305,335], "labels": false, "ticks": true, "tickSize": -13, "tickColor": "black", "grid": false, "title": null}},
    "y": {"field": "dep", "type": "quantitative", "scale": {"domain": [-20, 30], "nice": false, "zero": false}, "axis": null}
   }},
  {"data": {"name": "days"},
   "mark": {"type": "point", "opacity": 0, "size": 1},
   "encoding": {
    "x": {"field": "d", "type": "quantitative", "scale": {"domain": [0.5, 365.5], "nice": false, "zero": false},
      "axis": {"orient": "bottom", "values": [32,60,91,121,152,182,213,244,274,305,335], "labels": false, "ticks": true, "tickSize": -13, "tickColor": "black", "grid": false, "title": null}},
    "y": {"field": "dep", "type": "quantitative", "scale": {"domain": [-20, 30], "nice": false, "zero": false}, "axis": null}
   }}
 ],
 "resolve": {"axis": {"x": "independent", "y": "independent"}}
},
{
 "width": 366, "height": 226,
 "layer": [
  {"data": {"name": "days"}, "transform": [{"filter": "datum.z > 0"}],
   "mark": {"type": "rule", "color": "#ff0000", "strokeWidth": 1.5},
   "encoding": {
    "x": {"field": "d", "type": "quantitative", "scale": {"domain": [0.5, 365.5], "nice": false, "zero": false},
      "axis": {"orient": "top", "values": [12,41,72,104,136,167,196,225,256,286,317,349], "labelExpr": "['J','F','M','A','M','J','J','A','S','O','N','D'][indexof([12,41,72,104,136,167,196,225,256,286,317,349], datum.value)]", "ticks": false, "grid": false, "labelFontSize": 22, "labelFontWeight": "bold", "labelPadding": 1.5, "labelFlush": false, "labelOverlap": false,
        "title": ["DOWNTOWN LOS ANGELES WBO STANDARDIZED", "DAILY TEMPERATURE DEPARTURES FOR 1926"], "titleFontSize": 18, "titleFontWeight": "bold", "titleLineHeight": 20, "titlePadding": 11, "titleX": 177}},
    "y": {"field": "z", "type": "quantitative", "scale": {"domain": [-3.5, 4], "nice": false, "zero": false},
      "axis": {"orient": "left", "values": [-3.5,-3,-2.5,-2,-1.5,-1,-0.5,0,0.5,1,1.5,2,2.5,3,3.5,4], "labelExpr": "replace(format(datum.value, '.1f'), '\u2212', '-')", "grid": true, "gridColor": "black", "gridDash": [1, 8.2], "gridOpacity": 1, "gridWidth": 1, "ticks": false, "labelFontSize": 12, "labelFontWeight": "bold", "labelPadding": 11, "labelFlush": false, "labelOverlap": false,
        "title": "STANDARDIZED TEMP DEPARTURE (z)", "titleFontSize": 16, "titleFontWeight": "normal", "titlePadding": 2, "titleY": 115}},
    "y2": {"datum": 0}
   }},
  {"data": {"name": "days"}, "transform": [{"filter": "datum.z < 0"}],
   "mark": {"type": "rule", "color": "#0000ff", "strokeWidth": 1.5},
   "encoding": {
    "x": {"field": "d", "type": "quantitative", "scale": {"domain": [0.5, 365.5], "nice": false, "zero": false},
      "axis": {"orient": "bottom", "values": [12,41,72,104,136,167,196,225,256,286,317,349], "labelExpr": "['J','F','M','A','M','J','J','A','S','O','N','D'][indexof([12,41,72,104,136,167,196,225,256,286,317,349], datum.value)]", "ticks": false, "grid": false, "labelFontSize": 22, "labelFontWeight": "bold", "labelPadding": 3, "labelFlush": false, "labelOverlap": false,
        "title": "MONTH", "titleFontSize": 19, "titleFontWeight": "bold", "titlePadding": 6}},
    "y": {"field": "z", "type": "quantitative", "scale": {"domain": [-3.5, 4], "nice": false, "zero": false},
      "axis": {"orient": "right", "values": [-3.5,-3,-2.5,-2,-1.5,-1,-0.5,0,0.5,1,1.5,2,2.5,3,3.5,4], "labelExpr": "replace(format(datum.value, '.1f'), '\u2212', '-')", "grid": false, "ticks": false, "labelFontSize": 12, "labelFontWeight": "bold", "labelPadding": 8, "labelFlush": false, "labelOverlap": false, "title": null}},
    "y2": {"datum": 0}
   }},
  {"data": {"name": "days"},
   "mark": {"type": "point", "opacity": 0, "size": 1},
   "encoding": {
    "x": {"field": "d", "type": "quantitative", "scale": {"domain": [0.5, 365.5], "nice": false, "zero": false},
      "axis": {"orient": "top", "values": [32,60,91,121,152,182,213,244,274,305,335], "labels": false, "ticks": true, "tickSize": -13, "tickColor": "black", "grid": false, "title": null}},
    "y": {"field": "z", "type": "quantitative", "scale": {"domain": [-3.5, 4], "nice": false, "zero": false}, "axis": null}
   }},
  {"data": {"name": "days"},
   "mark": {"type": "point", "opacity": 0, "size": 1},
   "encoding": {
    "x": {"field": "d", "type": "quantitative", "scale": {"domain": [0.5, 365.5], "nice": false, "zero": false},
      "axis": {"orient": "bottom", "values": [32,60,91,121,152,182,213,244,274,305,335], "labels": false, "ticks": true, "tickSize": -13, "tickColor": "black", "grid": false, "title": null}},
    "y": {"field": "z", "type": "quantitative", "scale": {"domain": [-3.5, 4], "nice": false, "zero": false}, "axis": null}
   }}
 ],
 "resolve": {"axis": {"x": "independent", "y": "independent"}}
},
{
 "width": 366, "height": 226,
 "layer": [
  {"data": {"name": "prcp"},
   "mark": {"type": "rule", "color": "#008000", "strokeWidth": 1.2},
   "encoding": {
    "x": {"field": "d", "type": "quantitative", "scale": {"domain": [0.5, 365.5], "nice": false, "zero": false},
      "axis": {"orient": "top", "values": [12,41,72,104,136,167,196,225,256,286,317,349], "labelExpr": "['J','F','M','A','M','J','J','A','S','O','N','D'][indexof([12,41,72,104,136,167,196,225,256,286,317,349], datum.value)]", "ticks": false, "grid": false, "labelFontSize": 22, "labelFontWeight": "bold", "labelPadding": 1.5, "labelFlush": false, "labelOverlap": false,
        "title": ["DOWNTOWN LOS ANGELES WBO DAILY", "PRECIPITATION FOR 1926"], "titleFontSize": 18, "titleFontWeight": "bold", "titleLineHeight": 20, "titlePadding": 11}},
    "y": {"field": "p", "type": "quantitative", "scale": {"domain": [0, 3], "nice": false, "zero": false},
      "axis": {"orient": "left", "values": [0,0.25,0.5,0.75,1,1.25,1.5,1.75,2,2.25,2.5,2.75,3], "labelExpr": "datum.value == 0 ? '0.0' : format(datum.value, '.2f')", "grid": true, "gridColor": "black", "gridDash": [1, 8.2], "gridOpacity": 1, "gridWidth": 1, "ticks": false, "labelFontSize": 12, "labelFontWeight": "bold", "labelPadding": 14, "labelFlush": false, "labelOverlap": false,
        "title": "PRECIPITATION (IN.)", "titleFontSize": 17, "titleFontWeight": "normal", "titlePadding": 5, "titleY": 98}},
    "y2": {"datum": 0}
   }},
  {"data": {"name": "note"},
   "mark": {"type": "rule", "color": "#008000", "strokeWidth": 1},
   "encoding": {
    "x": {"field": "d", "type": "quantitative", "scale": {"domain": [0.5, 365.5], "nice": false, "zero": false},
      "axis": {"orient": "bottom", "values": [12,41,72,104,136,167,196,225,256,286,317,349], "labelExpr": "['J','F','M','A','M','J','J','A','S','O','N','D'][indexof([12,41,72,104,136,167,196,225,256,286,317,349], datum.value)]", "ticks": false, "grid": false, "labelFontSize": 22, "labelFontWeight": "bold", "labelPadding": 3, "labelFlush": false, "labelOverlap": false,
        "title": "MONTH", "titleFontSize": 19, "titleFontWeight": "bold", "titlePadding": 6}},
    "x2": {"datum": 35},
    "y": {"field": "v", "type": "quantitative", "scale": {"domain": [0, 3], "nice": false, "zero": false},
      "axis": {"orient": "right", "values": [0,0.25,0.5,0.75,1,1.25,1.5,1.75,2,2.25,2.5,2.75,3], "labelExpr": "datum.value == 0 ? '0.0' : format(datum.value, '.2f')", "grid": false, "ticks": false, "labelFontSize": 12, "labelFontWeight": "bold", "labelPadding": 10, "labelFlush": false, "labelOverlap": false, "title": null}},
    "y2": {"datum": 3.45}
   }},
  {"data": {"name": "note"},
   "mark": {"type": "text", "color": "#008000", "fontSize": 8.6, "align": "center", "baseline": "middle", "dx": 5, "dy": -38},
   "encoding": {
    "x": {"field": "d", "type": "quantitative", "scale": {"domain": [0.5, 365.5], "nice": false, "zero": false},
      "axis": {"orient": "top", "values": [32,60,91,121,152,182,213,244,274,305,335], "labels": false, "ticks": true, "tickSize": -13, "tickColor": "black", "grid": false, "title": null}},
    "y": {"field": "v", "type": "quantitative", "scale": {"domain": [0, 3], "nice": false, "zero": false}, "axis": null},
    "text": {"field": "lab"}
   }},
  {"data": {"name": "prcp"},
   "mark": {"type": "point", "opacity": 0, "size": 1},
   "encoding": {
    "x": {"field": "d", "type": "quantitative", "scale": {"domain": [0.5, 365.5], "nice": false, "zero": false},
      "axis": {"orient": "bottom", "values": [32,60,91,121,152,182,213,244,274,305,335], "labels": false, "ticks": true, "tickSize": -13, "tickColor": "black", "grid": false, "title": null}},
    "y": {"field": "p", "type": "quantitative", "scale": {"domain": [0, 3], "nice": false, "zero": false}, "axis": null}
   }}
 ],
 "resolve": {"axis": {"x": "independent", "y": "independent"}}
}
]
}
